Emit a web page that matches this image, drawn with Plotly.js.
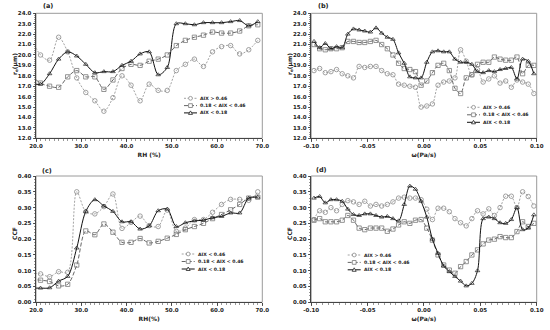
<!DOCTYPE html>
<html><head><meta charset="utf-8">
<script src="https://cdn.plot.ly/plotly-3.0.1.min.js"></script>
<style>html,body{margin:0;padding:0;background:#fff}#chart{width:550px;height:330px}</style>
</head><body><div id="chart"></div>
<script>
// ---------- DATA ----------
const rh = [19,21,23,25,27,29,31,33,35,37,39,41,43,45,47,49,51,53,55,57,59,61,63,65,67,69];
const omega = [-0.0975,-0.0925,-0.0875,-0.0825,-0.0775,-0.0725,-0.0675,-0.0625,-0.0575,-0.0525,
  -0.0475,-0.0425,-0.0375,-0.0325,-0.0275,-0.0225,-0.0175,-0.0125,-0.0075,-0.0025,
  0.0025,0.0075,0.0125,0.0175,0.0225,0.0275,0.0325,0.0375,0.0425,0.0475,
  0.0525,0.0575,0.0625,0.0675,0.0725,0.0775,0.0825,0.0875,0.0925,0.0975];

// (a) effective radius vs RH
const reRhHigh = [21.6,20.0,19.5,21.7,20.3,17.8,16.4,15.6,14.6,15.9,18.0,17.1,15.6,17.2,16.6,16.6,18.5,19.1,19.6,18.9,20.3,20.8,20.9,20.1,20.5,21.4];
const reRhMid  = [18.0,17.3,17.0,16.9,17.9,18.5,17.9,17.9,16.7,17.6,18.7,19.1,19.0,19.4,19.6,20.0,20.9,21.4,21.7,21.9,22.2,22.1,22.1,22.3,22.8,22.9];
const reRhLow  = [17.3,17.2,18.2,19.6,20.3,19.9,19.1,18.3,18.4,18.4,19.0,19.4,20.1,20.3,18.1,18.8,23.0,23.0,22.9,23.1,23.1,23.1,23.2,23.3,22.8,23.2];

// (b) effective radius vs omega
const reOmHigh = [18.5,18.7,18.3,18.4,18.6,18.2,18.0,17.8,18.9,18.8,18.9,18.9,18.5,18.2,18.1,17.2,17.1,17.0,16.9,15.0,
  15.1,15.3,17.1,17.4,17.5,17.8,20.5,19.4,18.1,18.6,17.4,17.7,18.0,17.3,17.5,16.9,17.6,17.4,17.2,16.3];
const reOmMid  = [21.0,20.6,20.5,20.6,20.6,20.7,21.3,21.3,21.2,21.2,21.3,21.4,21.0,20.6,20.0,19.2,18.7,18.6,18.4,17.1,
  17.5,18.3,19.0,19.2,18.5,16.8,16.3,17.8,18.1,19.1,19.3,19.3,19.8,19.6,19.5,19.5,19.8,18.2,19.0,19.0];
const reOmLow  = [21.3,20.7,21.1,20.6,20.8,20.7,22.0,22.5,22.4,22.3,22.2,22.6,22.1,21.7,21.5,20.2,19.2,17.9,17.8,17.8,
  19.3,20.3,20.4,20.3,20.3,19.6,19.3,19.3,19.1,18.4,18.3,18.5,18.4,18.6,18.7,18.8,17.7,19.6,19.4,18.2];

// (c) CCF vs RH
const ccfRhHigh = [0.092,0.090,0.081,0.097,0.095,0.350,0.287,0.280,0.303,0.343,0.234,0.253,0.273,0.243,0.240,0.292,0.225,0.235,0.262,0.262,0.285,0.310,0.326,0.326,0.323,0.350];
const ccfRhMid  = [0.072,0.070,0.066,0.052,0.057,0.118,0.226,0.214,0.248,0.222,0.190,0.190,0.202,0.188,0.193,0.203,0.215,0.230,0.240,0.250,0.265,0.278,0.293,0.310,0.330,0.333];
const ccfRhLow  = [0.045,0.045,0.046,0.067,0.082,0.172,0.288,0.325,0.305,0.288,0.255,0.255,0.232,0.242,0.290,0.295,0.240,0.252,0.258,0.260,0.268,0.272,0.283,0.283,0.330,0.333];

// (d) CCF vs omega
const ccfOmHigh = [0.262,0.290,0.285,0.300,0.290,0.310,0.322,0.318,0.310,0.320,0.305,0.310,0.305,0.310,0.318,0.330,0.333,0.330,0.330,0.325,
  0.295,0.262,0.298,0.298,0.287,0.265,0.252,0.242,0.265,0.290,0.280,0.296,0.275,0.300,0.336,0.336,0.300,0.350,0.335,0.305];
const ccfOmMid  = [0.260,0.265,0.255,0.255,0.255,0.260,0.275,0.260,0.235,0.230,0.235,0.235,0.235,0.225,0.232,0.245,0.255,0.250,0.260,0.262,
  0.235,0.197,0.150,0.118,0.102,0.092,0.113,0.129,0.150,0.166,0.185,0.197,0.200,0.208,0.205,0.205,0.224,0.255,0.240,0.250];
const ccfOmLow  = [0.330,0.335,0.315,0.325,0.325,0.320,0.295,0.278,0.275,0.280,0.280,0.275,0.270,0.272,0.265,0.258,0.310,0.368,0.358,0.320,
  0.270,0.200,0.155,0.115,0.097,0.082,0.067,0.052,0.060,0.100,0.265,0.270,0.265,0.252,0.250,0.262,0.300,0.230,0.235,0.277];

const rhTickVals = [20,30,40,50,60,70];
const rhTickText = ['20.0','30.0','40.0','50.0','60.0','70.0'];
const omTickVals = [-0.10,-0.05,0,0.05,0.10];
const omTickText = ['-0.10','-0.05','0.00','0.05','0.10'];
const reTickVals = [12,13,14,15,16,17,18,19,20,21,22,23,24];
const reTickText = ['12.0','13.0','14.0','15.0','16.0','17.0','18.0','19.0','20.0','21.0','22.0','23.0','24.0'];
const ccfTickVals = [0,0.05,0.10,0.15,0.20,0.25,0.30,0.35,0.40];
const ccfTickText = ['0.00','0.05','0.10','0.15','0.20','0.25','0.30','0.35','0.40'];

const legendA = ['AIX > 0.46','0.18 < AIX < 0.46','AIX < 0.18'];
const legendC = ['AIX < 0.46','0.18 < AIX < 0.46','AIX < 0.18'];

// ---------- STYLE ----------
const W = 550, H = 330;
const PX = p => p / W, PY = p => 1 - p / H;
const FONT = 'DejaVu Sans';
const S = [
  {line:{color:'#999999', width:0.9, dash:'2px,1.5px'}, marker:{symbol:'circle-open', size:4.5, color:'#8a8a8a', line:{width:0.8}}},
  {line:{color:'#555555', width:0.9, dash:'4px,2px'}, marker:{symbol:'square-open', size:4.3, color:'#7a7a7a', line:{width:0.8}}},
  {line:{color:'#111111', width:1.0}, marker:{symbol:'triangle-up-open', size:4, color:'#222222', line:{width:0.7}}}
];

function tr(x, y, i, ax) {
  return {x:x, y:y, type:'scatter', mode:'lines+markers', xaxis:'x'+ax, yaxis:'y'+ax,
    line:Object.assign({shape:'spline', smoothing:0.9}, S[i].line), marker:S[i].marker,
    cliponaxis:true, showlegend:false, hoverinfo:'skip'};
}
const traces = [
  tr(rh, reRhHigh, 0, ''), tr(rh, reRhMid, 1, ''), tr(rh, reRhLow, 2, ''),
  tr(omega, reOmHigh, 0, '2'), tr(omega, reOmMid, 1, '2'), tr(omega, reOmLow, 2, '2'),
  tr(rh, ccfRhHigh, 0, '3'), tr(rh, ccfRhMid, 1, '3'), tr(rh, ccfRhLow, 2, '3'),
  tr(omega, ccfOmHigh, 0, '4'), tr(omega, ccfOmMid, 1, '4'), tr(omega, ccfOmLow, 2, '4')
];

function ax(dom, range, vals, text, minorD, anchor, title, standoff) {
  const a = {domain:dom, range:range, anchor:anchor, tickmode:'array', tickvals:vals, ticktext:text,
    ticks:'outside', ticklen:2.5, tickwidth:0.8, tickcolor:'#333',
    showline:true, linecolor:'#444', linewidth:1, showgrid:false, zeroline:false, fixedrange:true,
    tickfont:{family:FONT, size:5.5, color:'#222', weight:'bold'},
    minor:{tickmode:'linear', tick0:range[0], dtick:minorD, ticks:'outside', ticklen:1.5, tickwidth:0.6, tickcolor:'#555', showgrid:false},
    automargin:false};
  if (title) a.title = {text:title, standoff:standoff, font:{family:FONT, size:6, color:'#222', weight:'bold'}};
  return a;
}
const xL = [36/W, 262.3/W], xR = [311.2/W, 536.7/W];
const yT = [1-138.3/H, 1-13.3/H], yB = [1-302.3/H, 1-176/H];

const layout = {
  width:W, height:H, margin:{l:0,r:0,t:0,b:0}, paper_bgcolor:'#fff', plot_bgcolor:'#fff', showlegend:false,
  xaxis:  ax(xL, [20,70], rhTickVals, rhTickText, 1, 'y', 'RH (%)', 4),
  yaxis:  ax(yT, [12,24], reTickVals, reTickText, 0.2, 'x'),
  xaxis2: ax(xR, [-0.1,0.1], omTickVals, omTickText, 0.005, 'y2', 'ω(Pa/s)', 4),
  yaxis2: ax(yT, [12,24], reTickVals, reTickText, 0.2, 'x2'),
  xaxis3: ax(xL, [20,70], rhTickVals, rhTickText, 1, 'y3', 'RH(%)', 4),
  yaxis3: ax(yB, [0,0.4], ccfTickVals, ccfTickText, 0.01, 'x3'),
  xaxis4: ax(xR, [-0.1,0.1], omTickVals, omTickText, 0.005, 'y4', 'ω(Pa/s)', 4),
  yaxis4: ax(yB, [0,0.4], ccfTickVals, ccfTickText, 0.01, 'x4'),
  shapes:[], annotations:[]
};

// frames
['', '2', '3', '4'].forEach(a => {
  layout.shapes.push({type:'rect', xref:'x'+a+' domain', yref:'y'+a+' domain', x0:0, x1:1, y0:0, y1:1,
    line:{color:'#9a9a9a', width:1}, layer:'below'});
});

function txt(x, y, t, size, opts) {
  layout.annotations.push(Object.assign({xref:'paper', yref:'paper', x:PX(x), y:PY(y), text:t, showarrow:false,
    font:{family:FONT, size:size, color:'#222', weight:'bold'}, xanchor:'center', yanchor:'middle'}, opts || {}));
}
// panel labels
txt(41, 6.3, '(a)', 6.5, {xanchor:'left'});
txt(316, 6.3, '(b)', 6.5, {xanchor:'left'});
txt(40, 171, '(c)', 6.5, {xanchor:'left'});
txt(314, 170, '(d)', 6.5, {xanchor:'left'});
// y axis titles (placed as in the reference, slightly above the axis centre)
txt(15, 64, 'r<sub>e</sub>(μm)', 6, {textangle:-90});
txt(290, 64, 'r<sub>e</sub>(μm)', 6, {textangle:-90});
txt(14, 234, 'CCF', 6, {textangle:-90});
txt(289, 234, 'CCF', 6, {textangle:-90});

// legends (drawn as decoration)
function legend(x0, y0, gap, labels) {
  labels.forEach((lab, i) => {
    const y = y0 + i * gap, cx = x0 + 6.5, st = S[i];
    layout.shapes.push({type:'line', xref:'paper', yref:'paper', x0:PX(x0), x1:PX(x0+13), y0:PY(y), y1:PY(y),
      line:{color:st.line.color, width:st.line.width, dash:st.line.dash || 'solid'}});
    const r = 1.9, col = st.marker.color, ln = {color:col, width:0.8};
    if (i === 0) layout.shapes.push({type:'circle', xref:'paper', yref:'paper', x0:PX(cx-r), x1:PX(cx+r), y0:PY(y+r), y1:PY(y-r), line:ln, fillcolor:'#fff'});
    if (i === 1) layout.shapes.push({type:'rect', xref:'paper', yref:'paper', x0:PX(cx-r), x1:PX(cx+r), y0:PY(y+r), y1:PY(y-r), line:ln, fillcolor:'#fff'});
    if (i === 2) layout.shapes.push({type:'path', xref:'paper', yref:'paper',
      path:`M ${PX(cx-2)} ${PY(y+1.5)} L ${PX(cx+2)} ${PY(y+1.5)} L ${PX(cx)} ${PY(y-2)} Z`, line:ln, fillcolor:'#fff'});
    txt(x0 + 14, y, lab, 4.6, {xanchor:'left'});
  });
}
legend(184, 98.3, 7.3, legendA);
legend(467, 107.3, 7.5, legendA);
legend(181.7, 254, 7.5, legendC);
legend(347.7, 255, 7.4, legendA);

Plotly.newPlot('chart', traces, layout, {staticPlot:true, displayModeBar:false});
</script>
</body></html>
